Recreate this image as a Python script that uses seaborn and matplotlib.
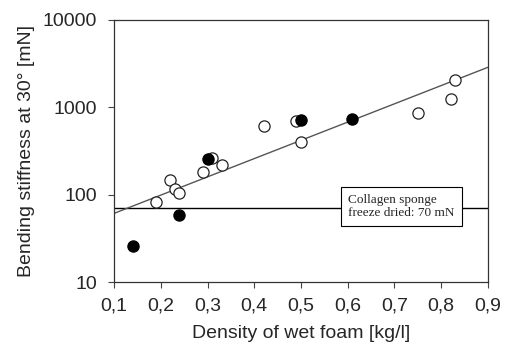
import numpy as np
import pandas as pd
import seaborn as sns
import matplotlib.pyplot as plt

# open circles
open_x = [0.19, 0.22, 0.23, 0.24, 0.29, 0.31, 0.33, 0.42, 0.49, 0.50, 0.75, 0.82, 0.83]
open_y = [82, 146, 115, 105, 182, 265, 219, 612, 690, 394, 863, 1248, 2040]
# filled circles
filled_x = [0.14, 0.24, 0.30, 0.50, 0.61]
filled_y = [26, 58, 258, 718, 731]
# regression line end points
fit_x = [0.1, 0.9]
fit_y = [61, 2850]
sponge_level = 70

xticks = [0.1, 0.2, 0.3, 0.4, 0.5, 0.6, 0.7, 0.8, 0.9]
yticks = [10, 100, 1000, 10000]

df = pd.DataFrame({
    'density': filled_x + open_x,
    'stiffness': filled_y + open_y,
    'kind': ['filled'] * len(filled_x) + ['open'] * len(open_x),
})

sns.set_style('ticks')
plt.rcParams['font.family'] = ['Liberation Sans', 'DejaVu Sans']

fig = plt.figure(figsize=(5.12, 3.5), dpi=100)
ax = fig.add_axes([0.2227, 0.194, 0.7303, 0.750])

ax.axhline(sponge_level, color='black', lw=1.0, zorder=1)
sns.lineplot(x=fit_x, y=fit_y, ax=ax, color='#555555', lw=1.0, zorder=2)
sns.scatterplot(data=df[df.kind == 'open'], x='density', y='stiffness', ax=ax,
                s=65, facecolor='white', edgecolor='#222222', linewidth=0.9, zorder=3)
sns.scatterplot(data=df[df.kind == 'filled'], x='density', y='stiffness', ax=ax,
                s=65, color='black', edgecolor='black', linewidth=0.9, zorder=4)

ax.set_yscale('log')
ax.set_xlim(0.1, 0.9)
ax.set_ylim(10, 10000)
ax.set_xticks(xticks)
ax.set_xticklabels([f'{v:.1f}'.replace('.', ',') for v in xticks])
ax.set_yticks(yticks)
ax.set_yticklabels([str(v) for v in yticks])
ax.yaxis.set_minor_locator(plt.NullLocator())
ax.tick_params(labelsize=14, length=4, width=0.8, color='#444444')
ax.tick_params(axis='x', pad=7)
ax.tick_params(axis='y', pad=8)

for s in ax.spines.values():
    s.set_linewidth(0.9)
    s.set_color('#333333')

ax.set_xlabel('Density of wet foam [kg/l]', fontsize=14, labelpad=8)
ax.set_ylabel('Bending stiffness at 30° [mN]', fontsize=14, labelpad=6)

ax.text(0.601, 73, 'Collagen sponge\nfreeze dried: 70 mN', fontsize=9.5,
        family=['Liberation Serif', 'DejaVu Serif'], va='center', ha='left',
        linespacing=1.15, zorder=5,
        bbox=dict(boxstyle='square,pad=0.55', facecolor='white', edgecolor='black', lw=0.8))

fig.savefig('out.png', dpi=100)
